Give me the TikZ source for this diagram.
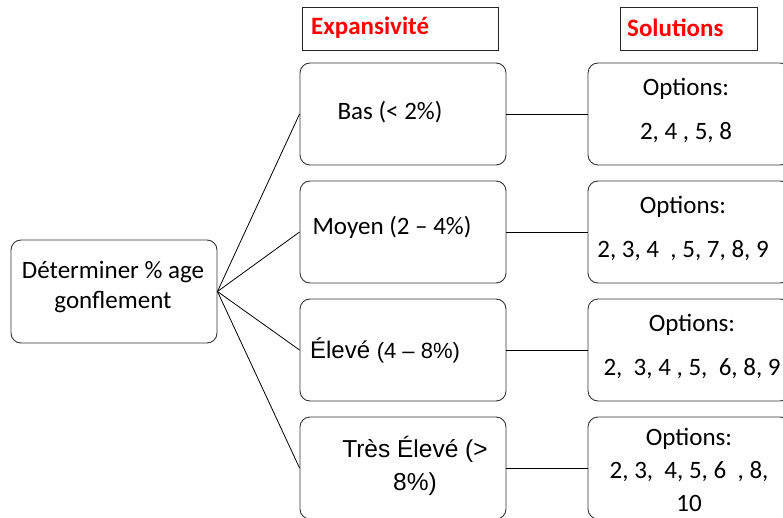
\documentclass[tikz,border=0pt]{standalone}
\usepackage{fontspec}
\setmainfont{Carlito}
\newfontfamily\arialfont{Liberation Sans}
\usetikzlibrary{positioning}

\begin{document}
\begin{tikzpicture}[x=1pt,y=-1pt,
    box/.style={draw=black!80,line width=0.9pt,rounded corners=10pt,minimum width=206pt,minimum height=102pt,inner sep=0pt},
    solbox/.style={box,minimum width=202pt},
    headbox/.style={draw=black!85,line width=0.9pt,minimum height=43pt,inner sep=0pt},
    headtxt/.style={anchor=west,text=red,font=\fontsize{25}{29}\selectfont\bfseries,inner sep=0pt},
    txt/.style={font=\fontsize{25}{30}\selectfont,align=center,inner sep=0pt},
    link/.style={line width=0.8pt}]
    \useasboundingbox (0,0) rectangle (783,518);

    % titres
    \node[headbox,minimum width=196pt] (hexp) at (400,28.5) {};
    \node[headtxt] (hexptxt) at (311,28) {Expansivité};
    \node[headbox,minimum width=137pt] (hsol) at (688.5,28.5) {};
    \node[headtxt] (hsoltxt) at (627,28) {Solutions};

    % gonflement
    \node[box,minimum height=103pt] (gonf) at (114,291.5) {};
    \node[txt] (gonftxt) at (113,287) {Déterminer \% age\\gonflement};

    % expansivite
    \node[box] (bas) at (403,114) {};
    \node[txt] (bastxt) at (390,112) {Bas (< 2\%)};
    \node[box] (moyen) at (403,232) {};
    \node[txt] (moyentxt) at (392,227) {Moyen (2 – 4\%)};
    \node[box] (eleve) at (403,350) {};
    \node[txt,font=\arialfont\fontsize{24}{29}\selectfont] (elevetxt) at (385,350) {Élevé {\fontsize{22}{26}\selectfont(4 – 8\%)}};
    \node[box] (televe) at (403,468) {};
    \node[txt,font=\arialfont\fontsize{24.5}{33}\selectfont] (televetxt) at (415,466) {Très Élevé (>\\8\%)};

    % solutions
    \node[solbox] (sbas) at (689,114) {};
    \node[txt] (sbastxt) at (686,110) {Options:\\[14pt]2, 4 , 5, 8};
    \node[solbox] (smoyen) at (689,232) {};
    \node[txt] (smoyentxt) at (683,228) {Options:\\[14pt]2, 3, 4\ \ , 5, 7, 8, 9};
    \node[solbox] (seleve) at (689,350) {};
    \node[txt] (selevetxt) at (692,346) {Options:\\[14pt]2,\ \ 3, 4 , 5,\ \ 6, 8, 9};
    \node[solbox] (televe2) at (689,468) {};
    \node[txt,font=\fontsize{25}{33}\selectfont] (stelevetxt) at (689,470) {Options:\\2, 3,\ \ 4, 5, 6\ \ , 8,\\10};

    % liaisons
    \foreach \n in {bas,moyen,eleve,televe}
        \draw[link] (gonf.east) -- (\n.west);
    \draw[link] (bas.east) -- (sbas.west);
    \draw[link] (moyen.east) -- (smoyen.west);
    \draw[link] (eleve.east) -- (seleve.west);
    \draw[link] (televe.east) -- (televe2.west);
\end{tikzpicture}
\end{document}
